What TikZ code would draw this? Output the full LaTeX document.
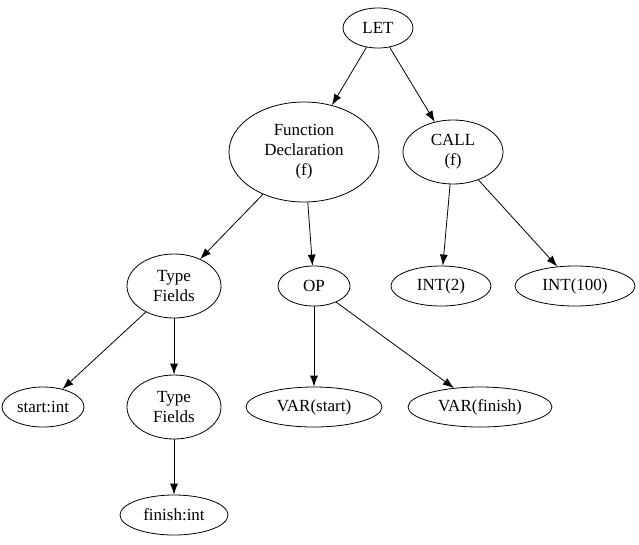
\documentclass[tikz,border=0pt]{standalone}
\usepackage{fontspec}
\setmainfont{Liberation Serif}
\usetikzlibrary{shapes.geometric,arrows.meta}

\begin{document}
\begin{tikzpicture}[x=1pt,y=-1pt,
    ast/.style={ellipse, draw, line width=0.8pt, inner sep=0pt, align=center,
        font=\fontsize{17}{20}\selectfont},
    astedge/.style={line width=0.8pt, -{Latex[length=11pt,width=8pt]}}]
    \useasboundingbox (0,0) rectangle (639,544);
    \node[ast, minimum width=70pt, minimum height=40pt] (let) at (378,28) {LET};
    \node[ast, minimum width=150pt, minimum height=100pt] (fundec) at (304,152) {Function\\Declaration\\(f)};
    \node[ast, minimum width=100pt, minimum height=64pt] (call) at (453,152) {CALL\\(f)};
    \node[ast, minimum width=94pt, minimum height=64pt] (tyfields) at (174,286) {Type\\Fields};
    \node[ast, minimum width=72pt, minimum height=40pt] (op) at (314,286) {OP};
    \node[ast, minimum width=100pt, minimum height=40pt] (int2) at (441,286) {INT(2)};
    \node[ast, minimum width=120pt, minimum height=40pt] (int100) at (575,286) {INT(100)};
    \node[ast, minimum width=82pt, minimum height=40pt] (start) at (43,407) {start:int};
    \node[ast, minimum width=94pt, minimum height=64pt] (tyfields2) at (174,407) {Type\\Fields};
    \node[ast, minimum width=136pt, minimum height=40pt] (varstart) at (314,407) {VAR(start)};
    \node[ast, minimum width=144pt, minimum height=40pt] (varfinish) at (480,407) {VAR(finish)};
    \node[ast, minimum width=108pt, minimum height=40pt] (finish) at (174,515) {finish:int};
    % edges
    \draw[astedge] (let) -- (fundec);
    \draw[astedge] (let) -- (call);
    \draw[astedge] (fundec) -- (tyfields);
    \draw[astedge] (fundec) -- (op);
    \draw[astedge] (call) -- (int2);
    \draw[astedge] (call) -- (int100);
    \draw[astedge] (tyfields) -- (start);
    \draw[astedge] (tyfields) -- (tyfields2);
    \draw[astedge] (op) -- (varstart);
    \draw[astedge] (op) -- (varfinish);
    \draw[astedge] (tyfields2) -- (finish);
\end{tikzpicture}
\end{document}
